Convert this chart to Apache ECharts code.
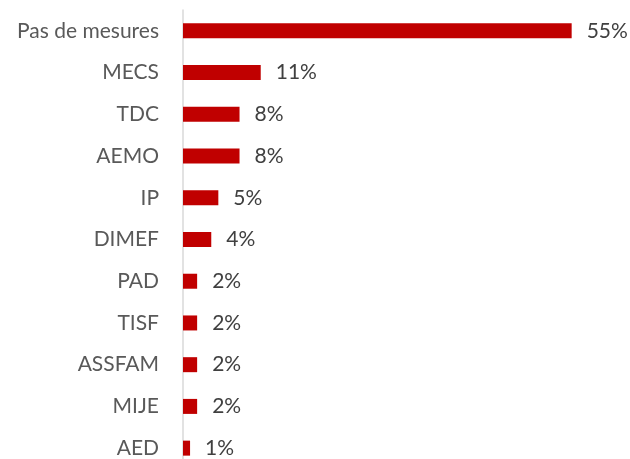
<!DOCTYPE html>
<html>
<head>
<meta charset="utf-8">
<script src="https://cdn.jsdelivr.net/npm/echarts@6/dist/echarts.min.js"></script>
<style>
  html, body { margin: 0; padding: 0; background: #ffffff; }
  #chart { width: 630px; height: 459px; }
</style>
</head>
<body>
<div id="chart"></div>
<script>
// Répartition des mesures (en %)
const categories = ['Pas de mesures', 'MECS', 'TDC', 'AEMO', 'IP', 'DIMEF', 'PAD', 'TISF', 'ASSFAM', 'MIJE', 'AED'];
const values = [55, 11, 8, 8, 5, 4, 2, 2, 2, 2, 1];

const chart = echarts.init(document.getElementById('chart'));
chart.setOption({
  animation: false,
  grid: { left: 183, top: 10, width: 424, height: 459, containLabel: false, outerBoundsMode: 'none' },
  xAxis: {
    type: 'value', min: 0, max: 60, show: false
  },
  yAxis: {
    type: 'category',
    data: categories,
    inverse: true,
    axisLine: { show: true, lineStyle: { color: '#D9D9D9', width: 1.5 } },
    axisTick: { show: false },
    axisLabel: {
      margin: 24,
      color: '#595959',
      fontFamily: 'Lato',
      fontSize: 21
    }
  },
  series: [{
    type: 'bar',
    data: values,
    barWidth: 15,
    itemStyle: { color: '#C00000' },
    label: {
      show: true,
      position: 'right',
      distance: 15,
      formatter: p => p.value + '%',
      color: '#404040',
      fontFamily: 'Lato',
      fontSize: 21
    }
  }]
});
</script>
</body>
</html>
